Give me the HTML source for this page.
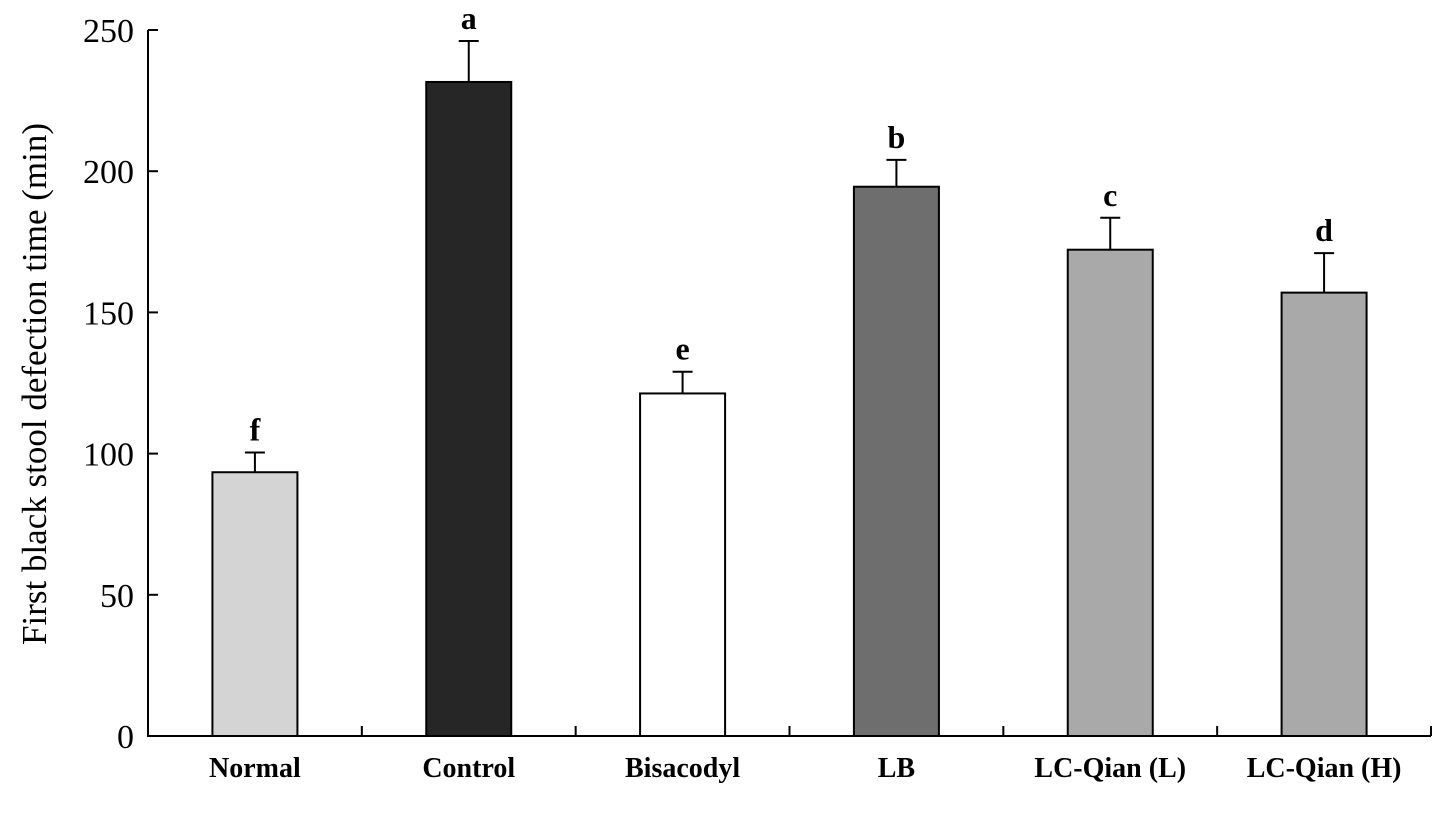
<!DOCTYPE html>
<html><head><meta charset="utf-8"><style>body{margin:0;background:#fff}svg{display:block}</style></head>
<body>
<svg id="chart" width="1441" height="821" xmlns="http://www.w3.org/2000/svg" font-family="Liberation Serif, serif">
<text transform="translate(46,384) rotate(-90)" text-anchor="middle" font-size="35">First black stool defection time (min)</text>
<g id="g"></g>
</svg>
<script>
const categories = ["Normal","Control","Bisacodyl","LB","LC-Qian (L)","LC-Qian (H)"];
const values = [93.4, 231.6, 121.3, 194.5, 172.2, 157];
const errors = [7, 14.5, 7.7, 9.5, 11.3, 14];
const letters = ["f","a","e","b","c","d"];
const fills = ["#d4d4d4","#262626","#ffffff","#6e6e6e","#a9a9a9","#a9a9a9"];
const yTicks = [0,50,100,150,200,250];
const NS="http://www.w3.org/2000/svg";
const g=document.getElementById('g');
const x0=148,x1=1431,yb=736,yt=30,ymax=250;
const cw=(x1-x0)/categories.length;
const y=v=>yb-(v/ymax)*(yb-yt);
const cx=i=>x0+cw*(i+0.5);
function mk(t,a){const e=document.createElementNS(NS,t);for(const k in a)e.setAttribute(k,a[k]);g.appendChild(e);return e;}
let e=mk('line',{x1:x0,y1:yt,x2:x0,y2:yb,stroke:'#000','stroke-width':2});


e=mk('line',{x1:x0-1,y1:yb,x2:x1,y2:yb,stroke:'#000','stroke-width':2});


yTicks.forEach(v=>{
  let t=mk('line',{x1:x0,y1:y(v),x2:x0+10,y2:y(v),stroke:'#000','stroke-width':2});
  
  
  let l=mk('text',{x:x0-14,y:y(v)+12,'text-anchor':'end','font-size':34});
  l.textContent=v;
  
  
});
for(let i=1;i<=categories.length;i++){
  let t=mk('line',{x1:x0+cw*i,y1:yb,x2:x0+cw*i,y2:yb-10,stroke:'#000','stroke-width':2});
  
  
}
const bw=85;
categories.forEach((c,i)=>{
  const c0=cx(i);
  let el=mk('line',{x1:c0,y1:y(values[i]),x2:c0,y2:y(values[i]+errors[i]),stroke:'#000','stroke-width':2});
  
  
  el=mk('line',{x1:c0-10,y1:y(values[i]+errors[i]),x2:c0+10,y2:y(values[i]+errors[i]),stroke:'#000','stroke-width':2});
  
  
  el=mk('rect',{x:c0-bw/2,y:y(values[i]),width:bw,height:yb-y(values[i]),fill:fills[i],stroke:'#000','stroke-width':2});
  
  
  el=mk('text',{x:c0,y:y(values[i]+errors[i])-12,'text-anchor':'middle','font-size':32,'font-weight':'bold'});
  el.textContent=letters[i];
  
  
  el=mk('text',{x:c0,y:777,'text-anchor':'middle','font-size':28,'font-weight':'bold'});
  el.textContent=c;
  
  
});
</script>
</body></html>
